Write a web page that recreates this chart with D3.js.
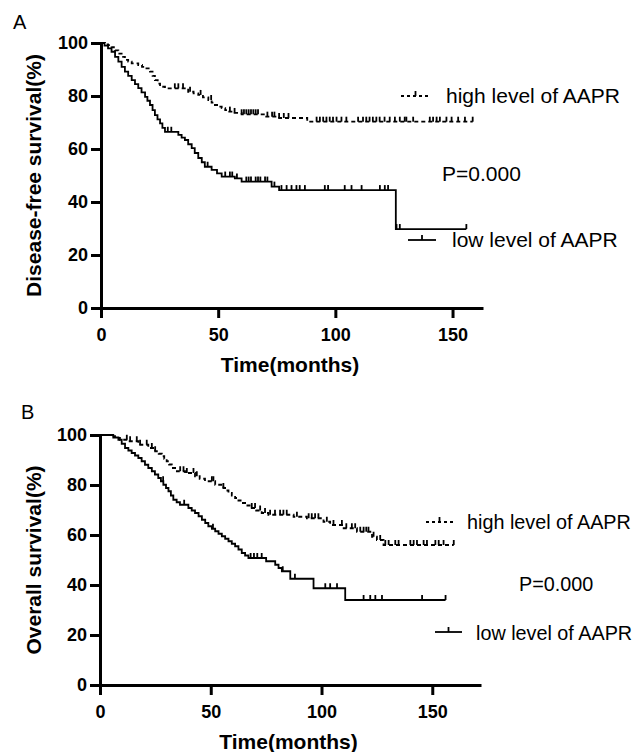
<!DOCTYPE html>
<html lang="en">
<head>
  <meta charset="UTF-8" />
  <title>AAPR survival curves</title>
  <script src="https://d3js.org/d3.v7.min.js"></script>
  <style>
    html, body { margin: 0; background: #fff; }
    svg { display: block; font-family: "Liberation Sans", Arial, sans-serif; }
    .axis path, .axis line { stroke: #000; stroke-width: 3px; }
    .axis text { font-size: 18px; font-weight: bold; fill: #000; font-family: "Liberation Sans", Arial, sans-serif; }
    .curve { fill: none; stroke: #000; stroke-width: 1.8px; }
    .censor { stroke: #000; stroke-width: 1.8px; }
    .title { font-size: 21px; font-weight: bold; }
  </style>
</head>
<body>
  <svg id="chart" width="638" height="752"></svg>

  <script>
    // ----- data -----
    const timeTicks = [0, 50, 100, 150];
    const pctTicks = [0, 20, 40, 60, 80, 100];

    // step curves: [time in months, survival % after the drop]
    const dfsHigh = [[0,100],[1.7,99.5],[3,99.2],[4.5,98.4],[6,97.2],[7.4,96],[8.8,94.8],[10.2,93.6],[11.6,93],[13.1,92.3],
      [15.9,91.7],[17.5,91],[18.8,90.4],[20.9,89.2],[22,87.6],[23,86],[24.2,84.7],[25.2,83.5],[27.3,82.9],[37.2,81.6],
      [39.5,81],[41.5,80.4],[43.5,79.5],[45.8,78.5],[47.2,77.5],[48.6,76.6],[50,76],[51.5,75.4],[53,74.7],[54.3,74.1],
      [57,73.6],[60,73.1],[70,72.2],[76,71.7],[88,70.3]];
    const dfsHighCensor = [31.5,33,35,38,42.5,47,55,57,60,61,62,63,64,65,66,67,71,73,74,76,78,80,
      92,93.4,94.8,96.2,97.6,99,100.5,102.6,104.7,109.7,111.8,113.2,114.6,116,117.5,118.9,121,123.2,
      125.4,127.5,129.6,130.3,133.2,140.3,141.7,143.2,144.6,147.4,149.6,152.4,155.3,158.6];
    const dfsHighEnd = 158.6;

    const dfsLow = [[0,100],[1.5,99],[3,98],[4.5,96.7],[6,94.8],[7.4,93],[8.8,91],[10.2,89.2],[11.6,87.6],[13.1,86],
      [14.5,84.5],[15.9,83],[17.3,81.4],[18.8,79.7],[19.8,78.2],[20.9,76.6],[22,74.7],[23,72.8],[24.1,71.2],[25.2,69.7],
      [26.2,68],[27.3,66.5],[33,65.3],[34.4,64.3],[35.8,63.4],[37.2,61.8],[38.7,60.3],[40,58.5],[41.5,56.6],[43,55],
      [44.3,53.3],[47.2,52.1],[49.5,50.8],[51.5,49.6],[57.1,48.9],[60,47.7],[72.8,45.8],[76,44.5],[125.8,29.8]];
    const dfsLowCensor = [28.5,30,45.5,53,55,56,58,62,63,64,66,67,68,70,71,74,77,79.2,81.3,83.4,84.8,87,
      95.5,96.9,104,106.9,111.2,119,121.1,122.5,126.1,127.5,155.9];
    const dfsLowEnd = 155.9;

    const osHigh = [[0,100],[4.5,99.5],[6.8,98.8],[9,98.1],[12.8,97.5],[17.3,96.1],[21.8,94.8],[24.9,93.5],[26.5,92.5],
      [27.9,91.5],[29,90.5],[30.1,89.5],[31.2,88.2],[32.4,86.8],[34.7,85.5],[38.4,84.8],[42.9,83.5],[45,82.5],[47.4,81.5],
      [52,80.1],[55.7,78.8],[57,77.8],[58,76.8],[59.5,75.8],[61,74.8],[62.5,73.8],[64,72.8],[66,71.8],[68.5,70.8],
      [70.5,69.8],[73,68.8],[76,68.1],[87.4,67.3],[93.4,66.7],[100.9,65.3],[103.9,64],[110,62.7],[116,61.3],
      [122.8,59.3],[125,58],[128,56]];
    const osHighCensor = [12.1,13.6,16.6,18.1,21.1,23.4,24.9,36.2,37.7,39.2,42.2,43.7,50.5,51.2,55.7,68.5,70,72.3,74.5,
      76.8,79,81.3,82.8,84.3,88.9,94.2,95.6,97.1,98.6,102.4,105.4,109.2,111.2,113.7,115.2,117.5,119,120.2,121.2,
      123.5,126.5,128.8,130.3,133.3,134.8,140.1,141.6,143.1,146.1,147.6,151.4,152.9,155.1,159.7];
    const osHighEnd = 159.7;

    const osLow = [[0,100],[6,99],[8.3,98.1],[9.8,96.5],[11.3,94.8],[12.8,93.8],[14.3,92.8],[15.8,91.8],[17.3,90.8],
      [18.8,89.5],[20.3,88.1],[21.8,86.8],[23.4,85.5],[24.8,84.2],[26.3,82.8],[27.5,81.5],[28.6,80.1],[29.8,78.8],
      [30.9,77.5],[32,75.8],[33.1,74.1],[34.6,73.1],[36.1,72.1],[39.9,70.8],[41.4,69.8],[42.9,68.8],[44.5,67.5],
      [46,66.1],[47.5,64.8],[48.9,63.5],[50.5,62.5],[52,61.5],[53.5,60.5],[55,59.5],[56.5,58.5],[58,57.5],[59.5,56.5],
      [61,55.5],[62.5,54.2],[64,52.8],[65.5,51.8],[67,50.8],[75,49.5],[79.1,48.1],[80.6,46.8],[82.1,45.5],[85.9,42.5],
      [96.4,38.7],[110.7,34]];
    const osLowCensor = [28.5,38,51,68,69.5,71,73,82.5,88,101.7,103.9,107,119,122,124.3,127.3,145.4,156];
    const osLowEnd = 156;

    const svg = d3.select('#chart');

    // survival value of a step curve at time t
    function survAt(steps, t) {
      let s = steps[0][1];
      for (const d of steps) { if (d[0] <= t) s = d[1]; }
      return s;
    }

    function drawPanel(p) {
      const x = d3.scaleLinear().domain([0, p.xMax]).range([p.left, p.right]);
      const y = d3.scaleLinear().domain([0, 100]).range([p.bottom, p.top]);
      const g = svg.append('g');

      // axes
      g.append('g')
        .attr('class', 'axis')
        .attr('transform', `translate(0,${p.bottom})`)
        .call(d3.axisBottom(x).tickValues(timeTicks).tickSize(10).tickSizeOuter(0).tickPadding(10));
      g.append('g')
        .attr('class', 'axis')
        .attr('transform', `translate(${p.left},0)`)
        .call(d3.axisLeft(y).tickValues(pctTicks).tickSize(10).tickSizeOuter(0).tickPadding(3));

      // curves
      const line = d3.line().x(d => x(d[0])).y(d => y(d[1])).curve(d3.curveStepAfter);
      p.series.forEach(s => {
        const pts = s.steps.concat([[s.end, s.steps[s.steps.length - 1][1]]]);
        g.append('path')
          .attr('class', 'curve')
          .attr('d', line(pts))
          .attr('stroke-dasharray', s.dash || null);
        g.selectAll(null)
          .data(s.censor)
          .enter().append('line')
            .attr('class', 'censor')
            .attr('x1', t => x(t)).attr('x2', t => x(t))
            .attr('y1', t => y(survAt(s.steps, t)))
            .attr('y2', t => y(survAt(s.steps, t)) - 5);
      });

      // titles
      g.append('text')
        .attr('class', 'title')
        .attr('text-anchor', 'middle')
        .attr('transform', `translate(34,${(p.top + p.bottom) / 2}) rotate(-90)`)
        .attr('dy', '0.35em')
        .text(p.yTitle);
      g.append('text')
        .attr('class', 'title')
        .attr('text-anchor', 'middle')
        .attr('x', (p.left + p.right) / 2 - 2)
        .attr('y', p.xTitleY)
        .text('Time(months)');
      g.append('text')
        .attr('x', p.letter[0]).attr('y', p.letter[1])
        .attr('font-size', 20)
        .text(p.letterText);

      // legend
      p.legend.forEach(l => {
        g.append('line')
          .attr('class', 'curve')
          .attr('x1', l.x1).attr('x2', l.x2).attr('y1', l.y).attr('y2', l.y)
          .attr('stroke-dasharray', l.dash || null);
        const mid = (l.x1 + l.x2) / 2;
        g.append('line').attr('class', 'censor')
          .attr('x1', mid).attr('x2', mid).attr('y1', l.y).attr('y2', l.y - 5);
        g.append('text')
          .attr('font-size', p.legendSize)
          .attr('x', l.tx).attr('y', l.ty).text(l.label);
      });
      g.append('text')
        .attr('font-size', p.legendSize)
        .attr('x', p.pText[0]).attr('y', p.pText[1]).text('P=0.000');
    }

    drawPanel({
      letterText: 'A', letter: [13, 29],
      left: 101, right: 483, xMax: 163, top: 43, bottom: 308,
      yTitle: 'Disease-free survival(%)', xTitleY: 372,
      series: [
        {steps: dfsHigh, censor: dfsHighCensor, end: dfsHighEnd, dash: '4,3'},
        {steps: dfsLow, censor: dfsLowCensor, end: dfsLowEnd}
      ],
      legendSize: 21,
      legend: [
        {x1: 401, x2: 430, y: 96, dash: '3,3', tx: 446, ty: 103, label: 'high level of AAPR'},
        {x1: 408, x2: 436, y: 240, tx: 452, ty: 247, label: 'low level of AAPR'}
      ],
      pText: [442, 181]
    });

    drawPanel({
      letterText: 'B', letter: [21, 419],
      left: 100, right: 481, xMax: 172, top: 435, bottom: 685,
      yTitle: 'Overall survival(%)', xTitleY: 749,
      series: [
        {steps: osHigh, censor: osHighCensor, end: osHighEnd, dash: '4,3'},
        {steps: osLow, censor: osLowCensor, end: osLowEnd}
      ],
      legendSize: 19.8,
      legend: [
        {x1: 426, x2: 453, y: 522, dash: '3,3', tx: 467, ty: 529, label: 'high level of AAPR'},
        {x1: 435, x2: 462, y: 632, tx: 476, ty: 640, label: 'low level of AAPR'}
      ],
      pText: [519, 591]
    });
  </script>
</body>
</html>
